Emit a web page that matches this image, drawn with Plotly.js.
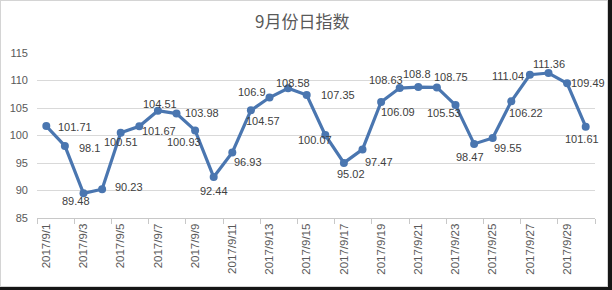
<!DOCTYPE html>
<html>
<head>
<meta charset="utf-8">
<script src="https://cdn.plot.ly/plotly-3.0.1.min.js"></script>
<style>
html,body{margin:0;padding:0;background:#161616;width:612px;height:290px;overflow:hidden;}
#wrap{position:absolute;left:0;top:0;width:606px;height:285px;border:1px solid #d4d4d4;background:#fff;}
#chart{width:606px;height:285px;}
</style>
</head>
<body>
<div id="wrap"><div id="chart"></div></div>
<script>
var dates = ["2017/9/1","2017/9/2","2017/9/3","2017/9/4","2017/9/5","2017/9/6","2017/9/7","2017/9/8","2017/9/9","2017/9/10",
             "2017/9/11","2017/9/12","2017/9/13","2017/9/14","2017/9/15","2017/9/16","2017/9/17","2017/9/18","2017/9/19","2017/9/20",
             "2017/9/21","2017/9/22","2017/9/23","2017/9/24","2017/9/25","2017/9/26","2017/9/27","2017/9/28","2017/9/29","2017/9/30"];
var indexValues = [101.71, 98.1, 89.48, 90.23, 100.51, 101.67, 104.51, 103.98, 100.93, 92.44,
                   96.93, 104.57, 106.9, 108.58, 107.35, 100.07, 95.02, 97.47, 106.09, 108.63,
                   108.8, 108.75, 105.53, 98.47, 99.55, 106.22, 111.04, 111.36, 109.49, 101.61];
var titleText = "9月份日指数";

// label offsets (pixels) relative to each point: right = +dx, down = +dy
var labelDx = [29, 25, -8, 27, 0, 20, 2, 25, -11, 0,
               16, 12, -18, 5, 31, -10, 7, 16, 17, -14,
               -1, 14, -12, -4, 15, 15, -22, 0, 21, -4];
var labelDy = [1, 2, 8, -2, 9, 5, -7, -1, 12, 14,
               10, 11, -6, -5, 0, 5, 11, 13, 10, -8,
               -13, -10, 8, 13, 10, 12, 1, -9, 0, 12];

var lineColor = "#4a76b0";

var annotations = dates.map(function(d, i){
  return {
    x: d, y: indexValues[i], xref: "x", yref: "y",
    text: String(indexValues[i]), showarrow: false,
    xshift: labelDx[i], yshift: -labelDy[i],
    font: {family: "Liberation Sans, Arial, sans-serif", size: 11, color: "#404040"}
  };
});

var trace = {
  x: dates, y: indexValues, type: "scatter", mode: "lines+markers",
  line: {color: lineColor, width: 3.2},
  marker: {color: lineColor, size: 8},
  hoverinfo: "x+y"
};

var layout = {
  width: 606, height: 285,
  margin: {l: 36, r: 12, t: 52, b: 68, pad: 0},
  paper_bgcolor: "#ffffff", plot_bgcolor: "#ffffff",
  showlegend: false,
  title: {text: titleText, x: 0.497, xanchor: "center", y: 0.925, yanchor: "middle",
          font: {family: "Noto Sans CJK SC, sans-serif", size: 17, color: "#595959"}},
  xaxis: {
    type: "category", range: [-0.5, 29.5],
    tickmode: "linear", tick0: 0, dtick: 2, tickson: "boundaries",
    ticks: "outside", ticklen: 5, tickcolor: "#c8c8c8",
    showline: true, linecolor: "#c8c8c8", linewidth: 1,
    showgrid: false, zeroline: false,
    tickangle: -90,
    tickfont: {family: "Liberation Sans, Arial, sans-serif", size: 11.5, color: "#595959"}
  },
  yaxis: {
    range: [85, 115], tickmode: "linear", tick0: 85, dtick: 5,
    showgrid: true, gridcolor: "#d9d9d9", gridwidth: 1,
    showline: false, zeroline: false, ticks: "",
    ticklabelstandoff: 8,
    tickfont: {family: "Liberation Sans, Arial, sans-serif", size: 11, color: "#595959"}
  },
  annotations: annotations
};

Plotly.newPlot("chart", [trace], layout, {staticPlot: true, displayModeBar: false});
</script>
</body>
</html>
